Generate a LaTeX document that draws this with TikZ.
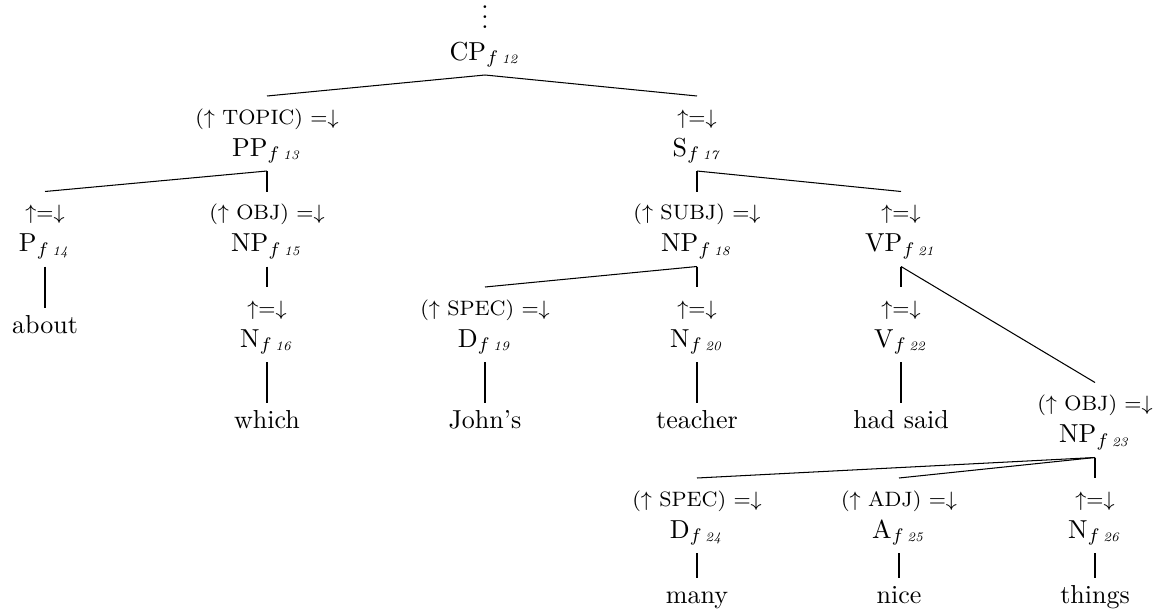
\documentclass[tikz,border=0pt]{standalone}
\usepackage{amsmath}
\newcommand{\fsub}[1]{$_{f\,\scriptscriptstyle\mathit{#1}}$}
\newcommand{\eqlab}{$\uparrow=\downarrow$}
\newcommand{\fnlab}[1]{($\uparrow$ #1) $=\downarrow$}
\tikzset{
  labn/.style={font=\footnotesize, anchor=base, inner xsep=1pt, inner ysep=4.77pt, text height=6pt, text depth=0pt, outer sep=0pt},
  cat/.style={anchor=base, inner xsep=1pt, inner ysep=3.77pt, text height=7pt, text depth=2pt, outer sep=0pt},
  wrd/.style={anchor=base, inner xsep=1pt, inner ysep=2.8pt, text height=7pt, text depth=2pt, outer sep=0pt},
  edge/.style={draw=black, line width=0.4pt}
}
\begin{document}
\begin{tikzpicture}[x=0.384615pt, y=-0.384615pt]
\useasboundingbox (0,0) rectangle (1168,614);
% root
\node[anchor=base, inner sep=0pt] (vd) at (485,29) {$\vdots$};
\node[cat] (cp) at (485,60) {CP\fsub{12}};
% level 1
\node[labn] (l13) at (267,124) {\fnlab{TOPIC}};
\node[cat] (pp13) at (267,156) {PP\fsub{13}};
\node[labn] (l17) at (697,124) {\eqlab};
\node[cat] (s17) at (697,156) {S\fsub{17}};
% level 2
\node[labn] (l14) at (45,219.5) {\eqlab};
\node[cat] (p14) at (45,251.5) {P\fsub{14}};
\node[labn] (l15) at (267,219.5) {\fnlab{OBJ}};
\node[cat] (np15) at (267,251.5) {NP\fsub{15}};
\node[labn] (l18) at (697,219.5) {\fnlab{SUBJ}};
\node[cat] (np18) at (697,251.5) {NP\fsub{18}};
\node[labn] (l21) at (901,219.5) {\eqlab};
\node[cat] (vp21) at (901,251.5) {VP\fsub{21}};
% level 3
\node[wrd] (about) at (45,333) {about};
\node[labn] (l16) at (267,315) {\eqlab};
\node[cat] (n16) at (267,347) {N\fsub{16}};
\node[labn] (l19) at (485,315) {\fnlab{SPEC}};
\node[cat] (d19) at (485,347) {D\fsub{19}};
\node[labn] (l20) at (697,315) {\eqlab};
\node[cat] (n20) at (697,347) {N\fsub{20}};
\node[labn] (l22) at (901,315) {\eqlab};
\node[cat] (v22) at (901,347) {V\fsub{22}};
% level 4
\node[wrd] (which) at (267,428) {which};
\node[wrd] (johns) at (485,428) {John's};
\node[wrd] (teacher) at (697,428) {teacher};
\node[wrd] (hadsaid) at (901,428) {had said};
\node[labn] (l23) at (1095,410.5) {\fnlab{OBJ}};
\node[cat] (np23) at (1095,442.5) {NP\fsub{23}};
% level 5
\node[labn] (l24) at (697,506) {\fnlab{SPEC}};
\node[cat] (d24) at (697,538) {D\fsub{24}};
\node[labn] (l25) at (899,506) {\fnlab{ADJ}};
\node[cat] (a25) at (899,538) {A\fsub{25}};
\node[labn] (l26) at (1095,506) {\eqlab};
\node[cat] (n26) at (1095,538) {N\fsub{26}};
\node[wrd] (many) at (697,603) {many};
\node[wrd] (nice) at (899,603) {nice};
\node[wrd] (things) at (1095,603) {things};
% edges
\draw[edge] (cp.south) -- (l13.north);
\draw[edge] (cp.south) -- (l17.north);
\draw[edge] (pp13.south) -- (l14.north);
\draw[edge] (pp13.south) -- (l15.north);
\draw[edge] (p14.south) -- (about.north);
\draw[edge] (np15.south) -- (l16.north);
\draw[edge] (n16.south) -- (which.north);
\draw[edge] (s17.south) -- (l18.north);
\draw[edge] (s17.south) -- (l21.north);
\draw[edge] (np18.south) -- (l19.north);
\draw[edge] (np18.south) -- (l20.north);
\draw[edge] (d19.south) -- (johns.north);
\draw[edge] (n20.south) -- (teacher.north);
\draw[edge] (vp21.south) -- (l22.north);
\draw[edge] (vp21.south) -- (l23.north);
\draw[edge] (v22.south) -- (hadsaid.north);
\draw[edge] (np23.south) -- (l24.north);
\draw[edge] (np23.south) -- (l25.north);
\draw[edge] (np23.south) -- (l26.north);
\draw[edge] (d24.south) -- (many.north);
\draw[edge] (a25.south) -- (nice.north);
\draw[edge] (n26.south) -- (things.north);
\end{tikzpicture}
\end{document}
